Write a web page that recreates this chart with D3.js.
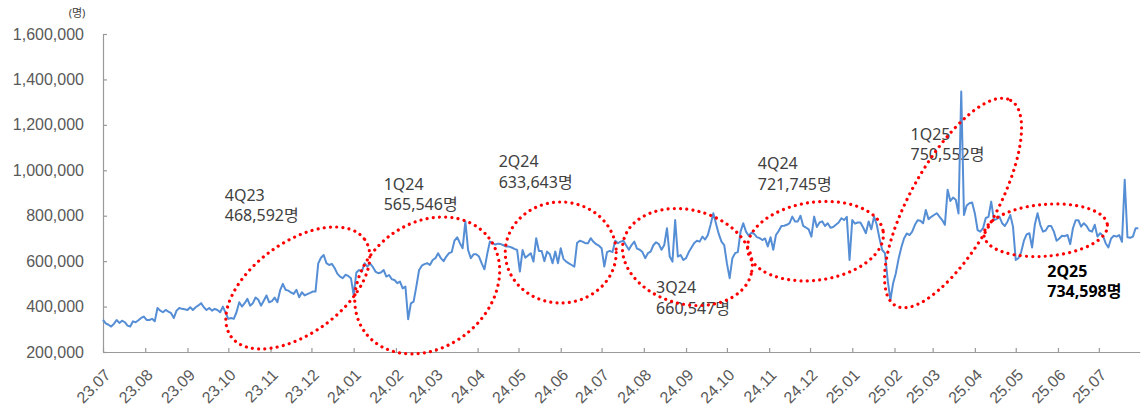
<!DOCTYPE html>
<html>
<head>
<meta charset="utf-8">
<script src="https://cdn.jsdelivr.net/npm/d3@7"></script>
<style>
  body { margin: 0; background: #fff; }
  svg { display: block; font-family: "Noto Sans", "Noto Sans CJK KR", sans-serif; }
</style>
</head>
<body>
<svg id="chart" width="1142" height="405"></svg>
<script>
var startDate = new Date(2023, 6, 1);
var endDate = new Date(2025, 6, 31);
var stepDays = 2;
var visitors = [
  341,326,320,312,324,341,328,338,331,316,
  312,335,331,340,350,356,341,341,346,335,
  394,382,375,385,378,371,350,382,394,390,
  388,385,397,385,397,405,415,397,385,394,
  382,390,385,375,400,372,346,350,346,375,
  419,400,415,434,404,415,440,430,404,426,
  449,419,424,440,419,471,500,474,470,462,
  456,474,441,463,449,455,460,466,466,590,
  615,627,591,583,588,570,545,532,525,540,
  535,525,451,550,561,554,591,576,590,575,
  554,547,550,561,532,539,520,517,503,510,
  480,488,344,414,422,488,560,580,587,591,
  583,605,613,635,613,600,620,635,640,690,
  705,679,657,775,649,613,630,630,620,590,
  564,630,686,679,673,677,675,670,664,664,
  660,654,649,554,649,615,625,635,598,701,
  645,645,600,642,630,591,642,591,657,610,
  598,590,583,576,680,690,686,679,679,701,
  685,675,668,657,576,640,645,640,690,679,
  686,690,670,650,671,686,655,650,640,613,
  635,642,670,683,675,650,671,745,620,598,
  781,620,627,605,613,640,660,680,690,686,
  708,695,715,760,811,765,720,686,671,590,
  525,613,635,640,730,767,730,712,725,720,
  706,701,693,700,665,705,650,715,733,755,
  756,760,767,796,775,775,800,755,748,740,
  708,796,750,770,775,755,767,747,750,760,
  770,789,781,795,605,781,765,770,770,748,
  723,775,740,796,760,700,649,635,517,429,
  503,547,610,660,700,722,715,730,760,780,
  778,767,825,785,795,803,811,796,781,760,
  914,865,880,870,810,1347,803,845,855,858,
  810,737,730,745,790,795,862,781,785,796,
  767,755,775,803,752,605,613,640,690,718,
  723,660,760,811,760,730,735,755,755,730,
  690,700,712,710,715,675,745,780,780,752,
  767,755,735,730,760,708,723,712,679,660,
  700,712,708,715,685,958,705,703,708,745,
  745
];

var yTicks = [200, 400, 600, 800, 1000, 1200, 1400, 1600];
var monthTicks = d3.timeMonth.range(startDate, new Date(2025, 6, 2));

var quarterLabels = ['4Q23', '1Q24', '2Q24', '3Q24', '4Q24', '1Q25', '2Q25'];
var quarterAvg = [468592, 565546, 633643, 660547, 721745, 750552, 734598];

// where each red oval sits (center in data space) + label offset in px
var ovals = [
    {date: '2023-11-21', value: 482, rx: 82.6, ry: 45.6, rot: -36, dx: -73, dy: -87},
    {date: '2024-02-24', value: 493, rx: 77.9, ry: 62.2, rot: -37.6, dx: -43.5, dy: -95.5},
    {date: '2024-06-01', value: 638, rx: 55.5, ry: 50.5, rot: 0, dx: -62, dy: -85.5},
    {date: '2024-09-02', value: 618, rx: 66, ry: 47, rot: 15, dx: -31.3, dy: 36},
    {date: '2024-12-05', value: 688, rx: 68.4, ry: 39, rot: -7.8, dx: -57.7, dy: -71.8},
    {date: '2025-03-16', value: 856, rx: 117.7, ry: 42.5, rot: -60.7, dx: -42.5, dy: -63},
    {date: '2025-05-23', value: 736, rx: 61.9, ry: 25.9, rot: -4.8, dx: 1.6, dy: 46.7}
];

var svg = d3.select('#chart');
var parseDate = d3.timeParse('%Y-%m-%d');
var fmtNum = d3.format(',');

var x = d3.scaleTime().domain([startDate, endDate]).range([103, 1139.7]);
var y = d3.scaleLinear().domain([200, 1600]).range([352, 34]);

var axisColor = '#999';
var textColor = '#595959';

// y axis
var yAxis = d3.axisLeft(y)
    .tickValues(yTicks)
    .tickSize(-4)
    .tickSizeOuter(0)
    .tickPadding(19)
    .tickFormat(function (d) { return fmtNum(d * 1000); });

var gy = svg.append('g').attr('transform', 'translate(103,0)').call(yAxis);
gy.selectAll('text').attr('fill', textColor).style('font-size', '16px');

// x axis
var xAxis = d3.axisBottom(x)
    .tickValues(monthTicks)
    .tickSize(-4)
    .tickSizeOuter(0)
    .tickFormat(d3.timeFormat('%y.%m'));

var gx = svg.append('g').attr('transform', 'translate(0,352)').call(xAxis);
gx.selectAll('text')
    .attr('x', 0).attr('y', 0).attr('dy', 0)
    .attr('transform', 'translate(8,24) rotate(-45)')
    .style('text-anchor', 'end')
    .style('font-size', '16px')
    .attr('fill', textColor);

svg.selectAll('.domain, .tick line').attr('stroke', axisColor).attr('stroke-width', 1.2);

// unit
svg.append('text')
    .attr('x', 77).attr('y', 17)
    .attr('text-anchor', 'middle')
    .style('font-size', '11px')
    .attr('fill', '#404040')
    .text('(명)');

// quarter labels (under the line, like the original)
ovals.forEach(function (o, i) {
    var cx = x(parseDate(o.date)), cy = y(o.value);
    var last = i == ovals.length - 1;
    var t = svg.append('text')
        .attr('x', cx + o.dx).attr('y', cy + o.dy)
        .style('font-size', '16px')
        .style('font-weight', last ? 'bold' : 'normal')
        .attr('fill', last ? '#000' : '#404040');
    t.append('tspan').attr('x', cx + o.dx).text(quarterLabels[i]);
    t.append('tspan').attr('x', cx + o.dx).attr('dy', 20.5).text(fmtNum(quarterAvg[i]) + '명');
});

// line
var line = d3.line()
    .x(function (d, i) { return x(d3.timeDay.offset(startDate, i * stepDays)); })
    .y(function (d) { return y(d); });

svg.append('path')
    .datum(visitors)
    .attr('d', line)
    .attr('fill', 'none')
    .attr('stroke', '#558ED5')
    .attr('stroke-width', 2)
    .attr('stroke-linejoin', 'round');

// red dotted ovals
ovals.forEach(function (o) {
    var cx = x(parseDate(o.date)), cy = y(o.value);
    svg.append('ellipse')
        .attr('cx', 0).attr('cy', 0)
        .attr('rx', o.rx).attr('ry', o.ry)
        .attr('transform', 'translate(' + cx + ',' + cy + ') rotate(' + o.rot + ')')
        .attr('fill', 'none')
        .attr('stroke', '#ff0000')
        .attr('stroke-width', 3.2)
        .attr('stroke-linecap', 'round')
        .attr('stroke-dasharray', '0.01 6.2');
});
</script>
</body>
</html>
